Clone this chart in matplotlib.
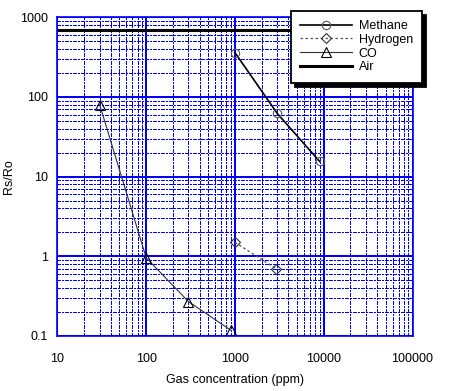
import numpy as np
import matplotlib
matplotlib.use("Agg")
import matplotlib.pyplot as plt
from matplotlib.ticker import LogLocator, NullFormatter

plt.rcParams['font.family'] = ['Liberation Sans', 'DejaVu Sans']

# Data
methane_ppm = [1000, 3000, 9000]
methane_rs = [360, 62, 15.5]
hydrogen_ppm = [1000, 2900]
hydrogen_rs = [1.5, 0.7]
co_ppm = [30, 100, 300, 900]
co_rs = [80, 0.96, 0.27, 0.118]
air_rs = 700

xticks = [10, 100, 1000, 10000, 100000]
xlabels = ['10', '100', '1000', '10000', '100000']
yticks = [0.1, 1, 10, 100, 1000]
ylabels = ['0.1', '1', '10', '100', '1000']

fig = plt.figure(figsize=(4.56, 3.91), dpi=100)
ax = fig.add_axes([0.1257, 0.1407, 0.779, 0.8151])

ax.set_xscale('log')
ax.set_yscale('log')
ax.set_xlim(10, 100000)
ax.set_ylim(0.1, 1000)

# grid: solid blue decades, dash-dot blue in between
ax.xaxis.set_minor_locator(LogLocator(base=10, subs=np.arange(2, 10)))
ax.yaxis.set_minor_locator(LogLocator(base=10, subs=np.arange(2, 10)))
ax.xaxis.set_minor_formatter(NullFormatter())
ax.yaxis.set_minor_formatter(NullFormatter())
ax.grid(which='major', color='#0000ff', linewidth=1.2, linestyle='-',
        antialiased=False)
ax.grid(which='minor', color='#0000ff', linewidth=0.72,
        linestyle=(0, (3, 1.5, 1.5, 1.5)), antialiased=False)
ax.set_axisbelow(True)
for s in ax.spines.values():
    s.set_color('#0000ff')
    s.set_linewidth(1.2)

ax.set_xticks(xticks, xlabels)
ax.set_yticks(yticks, ylabels)
ax.tick_params(which='both', length=0, labelsize=9)
ax.tick_params(axis='x', pad=12)
ax.tick_params(axis='y', pad=7)

m, = ax.plot(methane_ppm, methane_rs, color='black', lw=1.2, marker='o',
             ms=6, mfc='none', mec='#555555', mew=0.8, label='Methane')
h, = ax.plot(hydrogen_ppm, hydrogen_rs, color='#555555', lw=0.9, ls=(0, (2, 2)),
             marker='D', ms=5, mfc='none', mec='#333333', mew=0.8, label='Hydrogen')
c, = ax.plot(co_ppm, co_rs, color='#333333', lw=0.8, marker='^',
             ms=7.5, mfc='none', mec='black', mew=0.8, label='CO')
a = ax.axhline(air_rs, color='black', lw=2.2, label='Air')

ax.set_xlabel('Gas concentration (ppm)', fontsize=9)
ax.xaxis.set_label_coords(0.5, -0.12)
ax.set_ylabel('Rs/Ro', fontsize=9)
ax.yaxis.set_label_coords(-0.12, 0.5)

# legend box with solid black drop shadow, partly outside the axes
leg = fig.legend(handles=[m, h, c, a], loc='upper left',
                 bbox_to_anchor=(291 / 456, 1 - 10.5 / 391), borderaxespad=0,
                 fontsize=9, handlelength=4.1, labelspacing=0.15,
                 handletextpad=0.55, borderpad=0.75, fancybox=False,
                 framealpha=1, edgecolor='black',
                 shadow={'ox': 3, 'oy': -3, 'facecolor': 'black',
                         'edgecolor': 'black', 'alpha': 1})
leg.get_frame().set_linewidth(1.3)
leg.set_zorder(10)

fig.savefig('out.png', dpi=100)
